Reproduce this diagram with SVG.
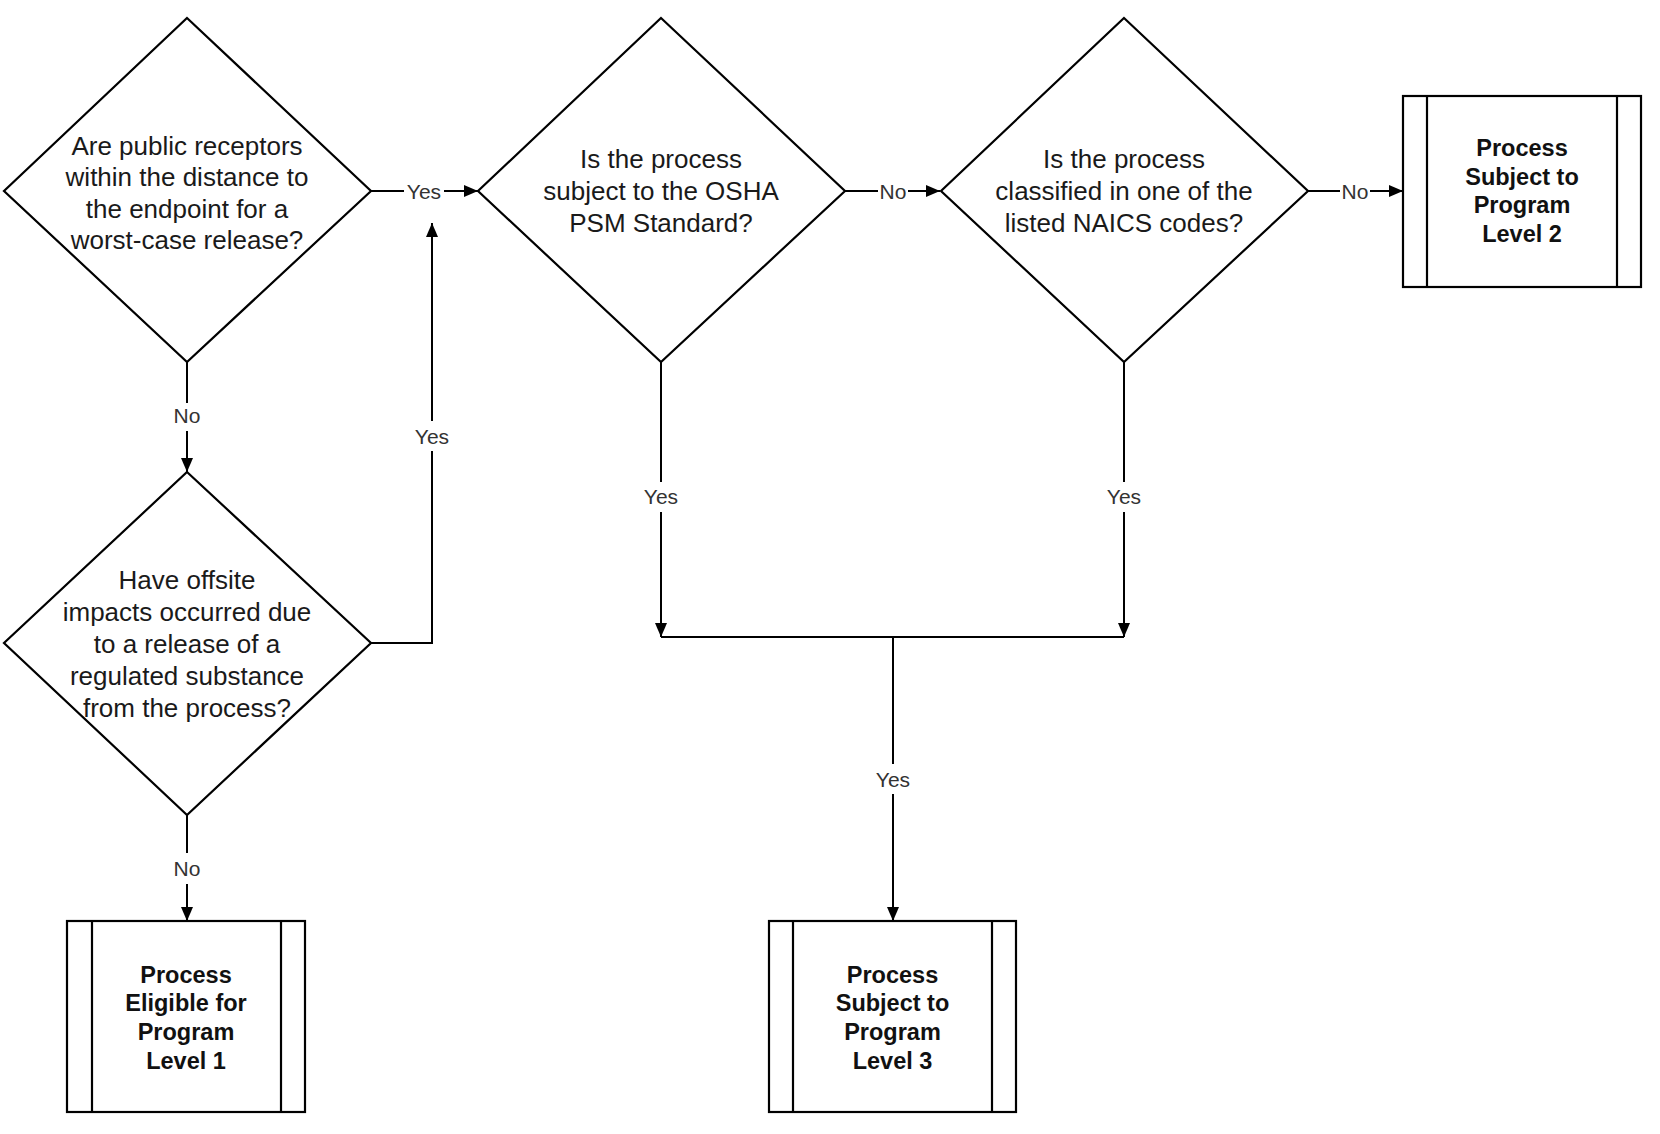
<svg xmlns="http://www.w3.org/2000/svg" width="1660" height="1134" viewBox="0 0 1660 1134">
<style>
.shape{fill:#fff;stroke:#000;stroke-width:2.2}
.inner{stroke:#000;stroke-width:2.2;fill:none}
.conn{fill:none;stroke:#000;stroke-width:2}
.q{font-family:"Liberation Sans",Arial,sans-serif;font-size:26px;fill:#1a1a1a;text-anchor:middle}
.t{font-family:"Liberation Sans",Arial,sans-serif;font-size:23.5px;font-weight:bold;fill:#111;text-anchor:middle}
.lbl{font-family:"Liberation Sans",Arial,sans-serif;font-size:21px;fill:#333;text-anchor:middle}
.bg{fill:#fff}
</style>
<defs>
<marker id="arr" markerUnits="userSpaceOnUse" markerWidth="14" markerHeight="12" viewBox="0 0 14 12" refX="14" refY="6" orient="auto">
<path d="M0,0 L14,6 L0,12 Z" fill="#000"/>
</marker>
</defs>
<rect width="1660" height="1134" fill="#fff"/>

<g id="connectors">
<path class="conn" d="M371,191 L478,191" marker-end="url(#arr)"/>
<path class="conn" d="M187,362 L187,472" marker-end="url(#arr)"/>
<path class="conn" d="M371,643 L432,643 L432,223" marker-end="url(#arr)"/>
<path class="conn" d="M187,815 L187,921" marker-end="url(#arr)"/>
<path class="conn" d="M845,191 L940,191" marker-end="url(#arr)"/>
<path class="conn" d="M1308,191 L1403,191" marker-end="url(#arr)"/>
<path class="conn" d="M661,362 L661,637" marker-end="url(#arr)"/>
<path class="conn" d="M1124,362 L1124,637" marker-end="url(#arr)"/>
<path class="conn" d="M661,637 L1124,637"/>
<path class="conn" d="M893,637 L893,921" marker-end="url(#arr)"/>

<rect class="bg" x="404" y="180" width="40" height="22"/>
<text class="lbl" x="424" y="198.5">Yes</text>
<rect class="bg" x="172" y="403" width="30" height="28"/>
<text class="lbl" x="187" y="422.5">No</text>
<rect class="bg" x="412" y="421" width="40" height="30"/>
<text class="lbl" x="432" y="443.5">Yes</text>
<rect class="bg" x="172" y="853" width="30" height="31"/>
<text class="lbl" x="187" y="875.5">No</text>
<rect class="bg" x="878" y="180" width="30" height="22"/>
<text class="lbl" x="893" y="198.5">No</text>
<rect class="bg" x="1340" y="180" width="30" height="22"/>
<text class="lbl" x="1355" y="198.5">No</text>
<rect class="bg" x="641" y="482" width="40" height="30"/>
<text class="lbl" x="661" y="503.5">Yes</text>
<rect class="bg" x="1104" y="482" width="40" height="30"/>
<text class="lbl" x="1124" y="503.5">Yes</text>
<rect class="bg" x="873" y="764" width="40" height="30"/>
<text class="lbl" x="893" y="786.5">Yes</text>
</g>

<g id="d1">
<polygon class="shape" points="187,18 371,191 187,362 4,191"/>
<text class="q" x="187" y="154.5">Are public receptors</text>
<text class="q" x="187" y="186">within the distance to</text>
<text class="q" x="187" y="217.5">the endpoint for a</text>
<text class="q" x="187" y="249">worst-case release?</text>
</g>

<g id="d2">
<polygon class="shape" points="661,18 845,191 661,362 478,191"/>
<text class="q" x="661" y="168">Is the process</text>
<text class="q" x="661" y="200">subject to the OSHA</text>
<text class="q" x="661" y="232">PSM Standard?</text>
</g>

<g id="d3">
<polygon class="shape" points="187,472 371,643 187,815 4,643"/>
<text class="q" x="187" y="589">Have offsite</text>
<text class="q" x="187" y="621">impacts occurred due</text>
<text class="q" x="187" y="653">to a release of a</text>
<text class="q" x="187" y="685">regulated substance</text>
<text class="q" x="187" y="717">from the process?</text>
</g>

<g id="d4">
<polygon class="shape" points="1124,18 1308,191 1124,362 941,191"/>
<text class="q" x="1124" y="167.5">Is the process</text>
<text class="q" x="1124" y="199.5">classified in one of the</text>
<text class="q" x="1124" y="231.5">listed NAICS codes?</text>
</g>

<g id="box1">
<rect class="shape" x="67" y="921" width="238" height="191"/>
<line class="inner" x1="92" y1="921" x2="92" y2="1112"/>
<line class="inner" x1="281" y1="921" x2="281" y2="1112"/>
<text class="t" x="186" y="982.5">Process</text>
<text class="t" x="186" y="1011.2">Eligible for</text>
<text class="t" x="186" y="1039.9">Program</text>
<text class="t" x="186" y="1068.6">Level 1</text>
</g>

<g id="box2">
<rect class="shape" x="1403" y="96" width="238" height="191"/>
<line class="inner" x1="1427" y1="96" x2="1427" y2="287"/>
<line class="inner" x1="1617" y1="96" x2="1617" y2="287"/>
<text class="t" x="1522" y="156">Process</text>
<text class="t" x="1522" y="184.7">Subject to</text>
<text class="t" x="1522" y="213.4">Program</text>
<text class="t" x="1522" y="242.1">Level 2</text>
</g>

<g id="box3">
<rect class="shape" x="769" y="921" width="247" height="191"/>
<line class="inner" x1="793" y1="921" x2="793" y2="1112"/>
<line class="inner" x1="992" y1="921" x2="992" y2="1112"/>
<text class="t" x="892.5" y="982.5">Process</text>
<text class="t" x="892.5" y="1011.2">Subject to</text>
<text class="t" x="892.5" y="1039.9">Program</text>
<text class="t" x="892.5" y="1068.6">Level 3</text>
</g>
</svg>
